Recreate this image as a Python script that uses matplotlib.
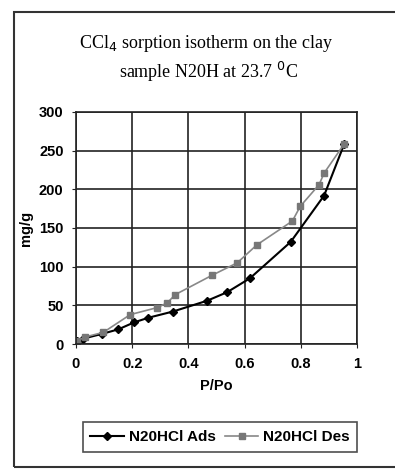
import matplotlib.pyplot as plt
from matplotlib.patches import Rectangle

# adsorption branch
ads_x = [0.004, 0.026, 0.092, 0.151, 0.207, 0.258, 0.345, 0.467, 0.538, 0.619, 0.764, 0.883, 0.955]
ads_y = [4, 7, 13, 19, 28, 34, 42, 56, 67, 85, 132, 192, 259]

# desorption branch
des_x = [0.004, 0.032, 0.097, 0.193, 0.288, 0.324, 0.354, 0.485, 0.574, 0.643, 0.770, 0.798, 0.865, 0.883, 0.955]
des_y = [4, 9, 15, 38, 47, 53, 64, 89, 105, 128, 159, 178, 206, 221, 259]

x_ticks = [0, 0.2, 0.4, 0.6, 0.8, 1]
x_ticklabels = ['0', '0.2', '0.4', '0.6', '0.8', '1']
y_ticks = [0, 50, 100, 150, 200, 250, 300]

fig = plt.figure(figsize=(3.95, 4.70), dpi=100)
# outer frame, open to the right like the scanned page
fig.patches.append(Rectangle((14 / 395, 3 / 470), 1.2, 455 / 470, transform=fig.transFigure,
                             fill=False, edgecolor='#333333', linewidth=1.5))

ax = fig.add_axes([76 / 395, 1 - 344 / 470, 281 / 395, 232 / 470])
ax.plot(ads_x, ads_y, color='black', marker='D', markersize=4, linewidth=1.5,
        label='N20HCl Ads')
ax.plot(des_x, des_y, color='#888888', marker='s', markersize=4, linewidth=1.2,
        markerfacecolor='#777777', markeredgecolor='#777777', label='N20HCl Des')

ax.set_xlim(0, 1)
ax.set_ylim(0, 300)
ax.set_xticks(x_ticks)
ax.set_xticklabels(x_ticklabels)
ax.set_yticks(y_ticks)
ax.grid(True, color='#222222', linewidth=1.2)
for s in ax.spines.values():
    s.set_color('#222222')
    s.set_linewidth(1.2)
ax.tick_params(labelsize=10.5, length=3, color='#222222', pad=6)
for lbl in ax.get_xticklabels() + ax.get_yticklabels():
    lbl.set_fontfamily('Liberation Sans')
    lbl.set_fontweight('bold')

ax.set_xlabel('P/Po', fontsize=10.5, fontfamily='Liberation Sans', fontweight='bold', labelpad=6)
ax.set_ylabel('mg/g', fontsize=10.5, fontfamily='Liberation Sans', fontweight='bold', labelpad=4)

fig.text(0.522, 1 - 44 / 470, r'CCl$_4$ sorption isotherm on the clay', ha='center', va='center',
         fontsize=13, fontfamily='Liberation Serif')
fig.text(0.527, 1 - 72 / 470, r'sample N20H at 23.7 $^{0}$C', ha='center', va='center',
         fontsize=13, fontfamily='Liberation Serif')

leg = fig.legend(loc='center', bbox_to_anchor=(220 / 395, 1 - 437 / 470), ncol=2,
                 frameon=True, fancybox=False, edgecolor='#222222', handlelength=2.2,
                 columnspacing=0.6, handletextpad=0.3, borderpad=0.5,
                 prop={'family': 'Liberation Sans', 'weight': 'bold', 'size': 11})
leg.get_frame().set_linewidth(1.2)

fig.savefig('out.png', dpi=100)
